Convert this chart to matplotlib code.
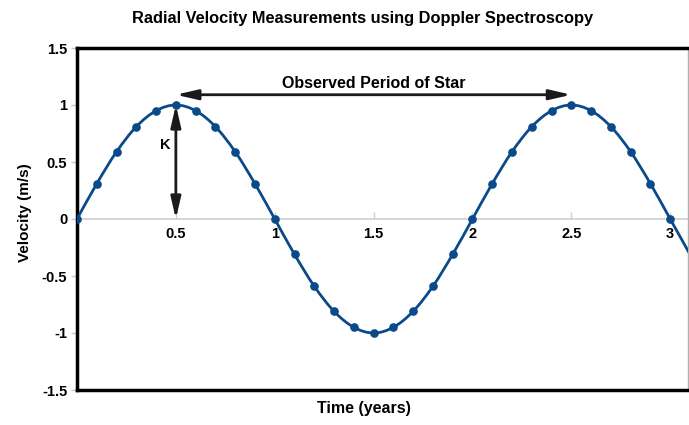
import matplotlib
matplotlib.use("Agg")
import matplotlib.pyplot as plt
from matplotlib.path import Path
from matplotlib.patches import PathPatch

times = [0.0, 0.1, 0.2, 0.3, 0.4, 0.5, 0.6, 0.7, 0.8, 0.9, 1.0,
         1.1, 1.2, 1.3, 1.4, 1.5, 1.6, 1.7, 1.8, 1.9, 2.0,
         2.1, 2.2, 2.3, 2.4, 2.5, 2.6, 2.7, 2.8, 2.9, 3.0]
velocity = [0.0, 0.31, 0.59, 0.81, 0.95, 1.0, 0.95, 0.81, 0.59, 0.31, 0.0,
            -0.31, -0.59, -0.81, -0.95, -1.0, -0.95, -0.81, -0.59, -0.31, 0.0,
            0.31, 0.59, 0.81, 0.95, 1.0, 0.95, 0.81, 0.59, 0.31, 0.0]
line_tail_t = [3.1]
line_tail_v = [-0.31]

x_ticks = [0.5, 1, 1.5, 2, 2.5, 3]
x_tick_labels = ["0.5", "1", "1.5", "2", "2.5", "3"]
y_ticks = [1.5, 1, 0.5, 0, -0.5, -1, -1.5]
y_tick_labels = ["1.5", "1", "0.5", "0", "-0.5", "-1", "-1.5"]

title = "Radial Velocity Measurements using Doppler Spectroscopy"
xlabel = "Time (years)"
ylabel = "Velocity (m/s)"
period_label = "Observed Period of Star"
k_label = "K"

plt.rcParams['font.family'] = ['Liberation Sans', 'DejaVu Sans']

color = "#0b4a89"
dark = "#1a1a1a"

fig = plt.figure(figsize=(6.89, 4.25), dpi=100)
ax = fig.add_axes([77/689, 35/425, (688-77)/689, (390-48)/425])

# smooth (Catmull-Rom style) curve through the data points
lt = times + line_tail_t
lv = velocity + line_tail_v
pts = list(zip(lt, lv))
n = len(pts)
verts = [pts[0]]
codes = [Path.MOVETO]
for i in range(n - 1):
    p0 = pts[i - 1] if i > 0 else pts[i]
    p1 = pts[i]
    p2 = pts[i + 1]
    p3 = pts[i + 2] if i + 2 < n else pts[i + 1]
    c1 = (p1[0] + (p2[0] - p0[0]) / 6, p1[1] + (p2[1] - p0[1]) / 6)
    c2 = (p2[0] - (p3[0] - p1[0]) / 6, p2[1] - (p3[1] - p1[1]) / 6)
    verts += [c1, c2, p2]
    codes += [Path.CURVE4, Path.CURVE4, Path.CURVE4]
curve = PathPatch(Path(verts, codes), facecolor='none', edgecolor=color, lw=2, zorder=3)
ax.add_patch(curve)
ax.plot(times, velocity, 'o', color=color, ms=5.2, zorder=4)

ax.set_xlim(0, 3.09)
ax.set_ylim(-1.5, 1.5)

# zero line axis with labels
sec = ax.secondary_xaxis(0.5)
sec.set_alignment('bottom')
sec.set_xticks(x_ticks)
sec.set_xticklabels(x_tick_labels, fontsize=10.5, fontweight='bold')
for s in sec.spines.values():
    s.set_color('#cfcfcf')
    s.set_linewidth(1.2)
sec.tick_params(direction='in', length=5, color='#cfcfcf', width=1, pad=6)

ax.set_xticks([])
ax.set_yticks(y_ticks)
ax.set_yticklabels(y_tick_labels, fontsize=10.5, fontweight='bold')
ax.tick_params(axis='y', length=4, color='#c8c8c8', width=1, pad=3)

for s in ['left', 'bottom', 'top']:
    ax.spines[s].set_linewidth(2.5)
    ax.spines[s].set_color('black')
ax.spines['right'].set_linewidth(1)
ax.spines['right'].set_color('#b0b0b0')

# arrows
arrow_kw = dict(arrowstyle='<|-|>,head_length=1.3,head_width=0.3', color=dark, lw=2,
                shrinkA=0, shrinkB=0)
ax.annotate('', xy=(0.5, 1.0), xytext=(0.5, 0.0), arrowprops=arrow_kw, zorder=5)
ax.annotate('', xy=(0.5, 1.09), xytext=(2.5, 1.09), arrowprops=arrow_kw, zorder=5)
ax.text(1.5, 1.125, period_label, ha='center', va='bottom', fontsize=11.5, fontweight='bold')
ax.text(0.445, 0.65, k_label, ha='center', va='center', fontsize=10.5, fontweight='bold')

fig.text(363/689, 1 - 18/425, title, ha='center', va='center', fontsize=11.8, fontweight='bold')
fig.text(364/689, 1 - 408/425, xlabel, ha='center', va='center', fontsize=11.5, fontweight='bold')
fig.text(25/689, 1 - 213/425, ylabel, ha='center', va='center', rotation=90, fontsize=11, fontweight='bold')

fig.savefig("out.png", dpi=100)
